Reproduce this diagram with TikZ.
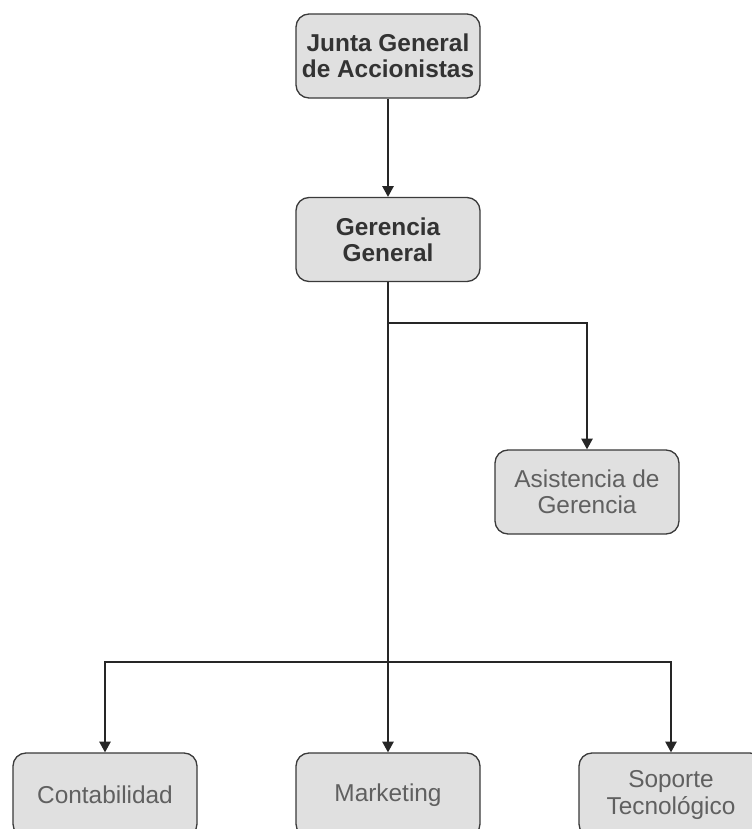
\documentclass[tikz,border=0pt]{standalone}
\usepackage{fontspec}
\setmainfont{Liberation Sans}
\usetikzlibrary{arrows.meta}
\definecolor{boxfill}{HTML}{E0E0E0}
\definecolor{boxline}{HTML}{3A3A3A}
\definecolor{txtbold}{HTML}{333333}
\definecolor{txtreg}{HTML}{606060}
\tikzset{
  orgbox/.style={draw=boxline, line width=1pt, fill=boxfill, rounded corners=9.75pt,
    minimum width=138pt, minimum height=63pt, align=center, inner sep=0pt,
    font=\fontsize{18.3pt}{19.8pt}\selectfont},
  boldbox/.style={orgbox, text=txtbold, font=\fontsize{18.3pt}{19.8pt}\selectfont\bfseries},
  regbox/.style={orgbox, text=txtreg},
  arr/.style={draw=black!85, line width=1pt, -{Triangle[length=8pt,width=8.5pt]}},
  conn/.style={draw=black!85, line width=1pt}
}
\begin{document}
\begin{tikzpicture}[x=0.75pt,y=-0.75pt]
\useasboundingbox (0,0) rectangle (752,829);
\clip (0,0) rectangle (752,829);
\fill[white] (0,0) rectangle (752,829);
\node[boldbox] (jg) at (388,56) {Junta General\\de Accionistas};
\node[boldbox] (gg) at (388,239.5) {Gerencia\\General};
\node[regbox] (as) at (587,492) {Asistencia de\\Gerencia};
\node[regbox] (ct) at (105,795) {Contabilidad};
\node[regbox] (mk) at (388,795) {Marketing};
\node[regbox] (st) at (671,795) {Soporte\\Tecnológico};
\coordinate (j1) at (388,323);
\coordinate (j2) at (388,662);
\draw[arr] (jg.south) -- (gg.north);
\draw[arr] (gg.south) -- (mk.north);
\draw[arr] (j1) -| (as.north);
\draw[arr] (j2) -| (ct.north);
\draw[arr] (j2) -| (st.north);
\end{tikzpicture}
\end{document}
